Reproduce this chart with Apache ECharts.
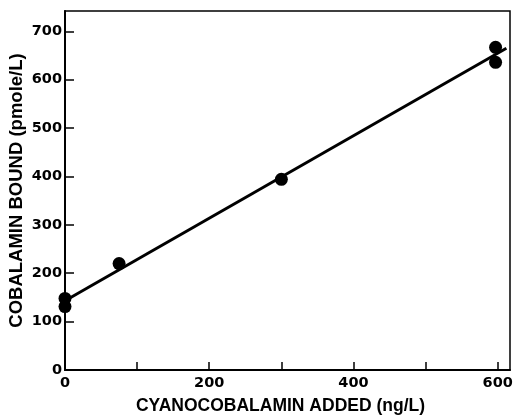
<!DOCTYPE html>
<html><head><meta charset="utf-8">
<script src="https://cdn.jsdelivr.net/npm/echarts@6/dist/echarts.min.js"></script>
<style>html,body{margin:0;padding:0;background:#fff}#c{width:517px;height:416px}</style>
</head><body><div id="c"></div>
<script>
const pointsX = [0, 0, 75, 300, 597, 597];
const pointsY = [131, 148, 220, 394, 667, 636];
const fitX = [0, 612];
const fitY = [143, 665];
const xTicks = [0, 100, 200, 300, 400, 500, 600];
const xLabels = [0, 200, 400, 600];
const yTicks = [0, 100, 200, 300, 400, 500, 600, 700];
const xTitle = 'CYANOCOBALAMIN ADDED (ng/L)';
const yTitle = 'COBALAMIN BOUND (pmole/L)';

const chart = echarts.init(document.getElementById('c'), null, {renderer: 'canvas'});
const labelFont = {fontFamily: 'DejaVu Sans', fontWeight: 'bold', fontSize: 14.5, color: '#000'};
chart.setOption({
  animation: false,
  grid: {left: 65, right: 7, top: 11, bottom: 46, show: true, borderColor: '#000', borderWidth: 1.5,
         backgroundColor: 'transparent', containLabel: false, outerBoundsMode: 'none'},
  xAxis: {
    type: 'value', min: 0, max: 617,
    name: xTitle, nameLocation: 'middle', nameGap: 27, nameMoveOverlap: false,
    nameTextStyle: {fontFamily: 'Liberation Sans', fontWeight: 'bold', fontSize: 17.5, color: '#000', padding: [0, 14, 0, 0]},
    axisLine: {show: true, onZero: false, lineStyle: {color: '#000', width: 2}},
    axisTick: {show: true, inside: true, length: 8, customValues: xTicks, lineStyle: {color: '#000', width: 1.5}},
    axisLabel: Object.assign({customValues: xLabels, margin: 6}, labelFont),
    splitLine: {show: false}
  },
  yAxis: {
    type: 'value', min: 0, max: 742,
    name: yTitle, nameLocation: 'middle', nameGap: 39, nameRotate: 90, nameMoveOverlap: false,
    nameTextStyle: {fontFamily: 'Liberation Sans', fontWeight: 'bold', fontSize: 18.5, color: '#000'},
    axisLine: {show: true, onZero: false, lineStyle: {color: '#000', width: 2}},
    axisTick: {show: true, inside: true, length: 9, customValues: yTicks, lineStyle: {color: '#000', width: 1.5}},
    axisLabel: Object.assign({customValues: yTicks, margin: 3}, labelFont),
    splitLine: {show: false}
  },
  series: [
    {type: 'line', data: fitX.map((x, i) => [x, fitY[i]]), symbol: 'none',
     lineStyle: {color: '#000', width: 3}, z: 2},
    {type: 'scatter', data: pointsX.map((x, i) => [x, pointsY[i]]), symbol: 'circle', symbolSize: 13,
     itemStyle: {color: '#000', opacity: 1}, z: 3, clip: false}
  ]
});
</script></body></html>
